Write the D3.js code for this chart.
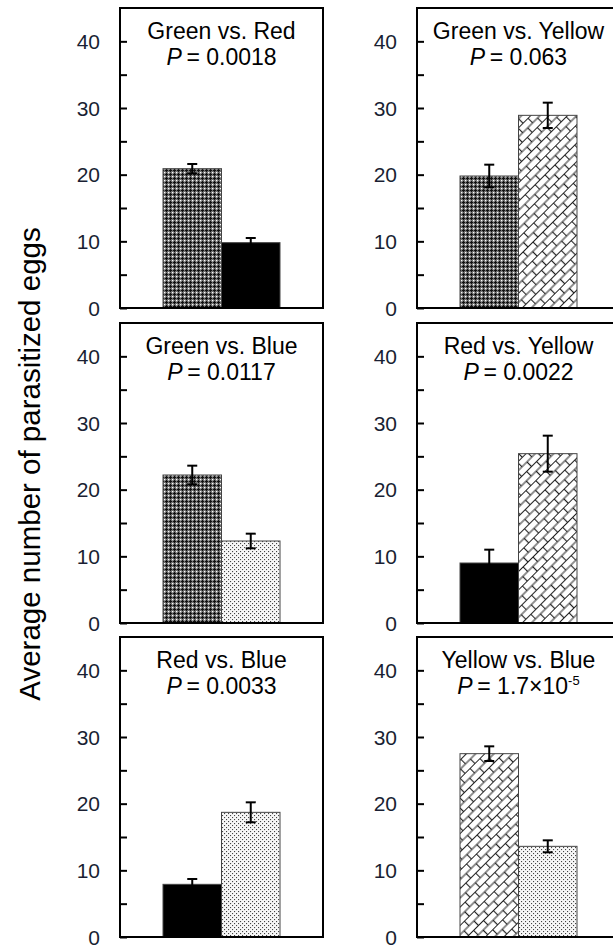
<!DOCTYPE html>
<html>
<head>
<meta charset="utf-8">
<script src="https://cdn.jsdelivr.net/npm/d3@7"></script>
<style>
  body { margin: 0; background: #fff; }
  svg { display: block; }
</style>
</head>
<body>
<svg id="vis"></svg>
<script>
// values
var titles = ["Green vs. Red", "Green vs. Yellow", "Green vs. Blue", "Red vs. Yellow", "Red vs. Blue", "Yellow vs. Blue"];
var pValues = ["0.0018", "0.063", "0.0117", "0.0022", "0.0033", "1.7\u00d710"];
var pExponents = ["", "", "", "", "", "-5"];
var pairs = [["Green", "Red"], ["Green", "Yellow"], ["Green", "Blue"], ["Red", "Yellow"], ["Red", "Blue"], ["Yellow", "Blue"]];
var means = [[20.9, 9.8], [19.8, 28.9], [22.2, 12.3], [9.0, 25.4], [7.9, 18.7], [27.5, 13.6]];
var errors = [[0.7, 0.7], [1.7, 1.9], [1.4, 1.1], [2.0, 2.7], [0.8, 1.5], [1.1, 0.9]];
var majorTicks = [0, 10, 20, 30, 40];
var minorTicks = [5, 15, 25, 35];
var yLabel = "Average number of parasitized eggs";

const WIDTH = 613;
const HEIGHT = 948;
const PANEL_W = 203;
const PANEL_H = 300;
const COLS = [120, 417];
const ROWS = [8, 323, 637];

var svg = d3.select("#vis")
    .attr("width", WIDTH)
    .attr("height", HEIGHT);

var defs = svg.append("defs");

// green: dark checker with white dots
var pg = defs.append("pattern").attr("id", "pGreen")
    .attr("width", 4).attr("height", 4).attr("patternUnits", "userSpaceOnUse");
pg.append("rect").attr("width", 4).attr("height", 4).attr("fill", "#707070");
pg.append("rect").attr("x", 0).attr("y", 0).attr("width", 1.3).attr("height", 1.3).attr("fill", "#fff");
pg.append("rect").attr("x", 2).attr("y", 1).attr("width", 1).attr("height", 3).attr("fill", "#111");
pg.append("rect").attr("x", 1).attr("y", 2).attr("width", 3).attr("height", 1).attr("fill", "#111");

// yellow: diagonal brick
var py = defs.append("pattern").attr("id", "pYellow")
    .attr("width", 14).attr("height", 13).attr("patternUnits", "userSpaceOnUse")
    .attr("patternTransform", "rotate(-45)");
py.append("rect").attr("width", 14).attr("height", 13).attr("fill", "#fff");
py.append("path")
    .attr("d", "M0,0.5H14M0,7H14M0.5,0V7M7.5,7V13")
    .attr("stroke", "#222").attr("stroke-width", 1.2).attr("fill", "none");

// blue: light dotted
var pb = defs.append("pattern").attr("id", "pBlue")
    .attr("width", 4).attr("height", 4).attr("patternUnits", "userSpaceOnUse");
pb.append("rect").attr("width", 4).attr("height", 4).attr("fill", "#f7f7f7");
pb.append("rect").attr("x", 0).attr("y", 0).attr("width", 1.1).attr("height", 1.1).attr("fill", "#444");
pb.append("rect").attr("x", 2).attr("y", 2).attr("width", 1.1).attr("height", 1.1).attr("fill", "#444");

var fills = { Green: "url(#pGreen)", Red: "#000", Yellow: "url(#pYellow)", Blue: "url(#pBlue)" };

var x = d3.scaleBand().domain([0, 1]).range([43, 160]).padding(0);
var y = d3.scaleLinear().domain([0, 45]).range([PANEL_H, 0]);

titles.forEach(function(t, i) {
    var x0 = COLS[i % 2];
    var y0 = ROWS[Math.floor(i / 2)];
    var g = svg.append("g").attr("transform", "translate(" + x0 + "," + y0 + ")");

    // bars
    g.selectAll("rect.bar")
        .data(means[i])
        .enter()
        .append("rect")
        .attr("class", "bar")
        .attr("x", function(d, j) { return x(j); })
        .attr("y", function(d) { return y(d); })
        .attr("width", x.bandwidth())
        .attr("height", function(d) { return y(0) - y(d); })
        .attr("fill", function(d, j) { return fills[pairs[i][j]]; })
        .attr("stroke", "#444")
        .attr("stroke-width", 1);

    // error bars
    var eb = g.selectAll("g.err")
        .data(means[i])
        .enter()
        .append("g")
        .attr("class", "err")
        .attr("stroke", "#000")
        .attr("stroke-width", 2);
    eb.append("line")
        .attr("x1", function(d, j) { return x(j) + x.bandwidth() / 2; })
        .attr("x2", function(d, j) { return x(j) + x.bandwidth() / 2; })
        .attr("y1", function(d, j) { return y(d + errors[i][j]); })
        .attr("y2", function(d, j) { return y(d - errors[i][j]); });
    eb.append("line")
        .attr("x1", function(d, j) { return x(j) + x.bandwidth() / 2 - 5; })
        .attr("x2", function(d, j) { return x(j) + x.bandwidth() / 2 + 5; })
        .attr("y1", function(d, j) { return y(d + errors[i][j]); })
        .attr("y2", function(d, j) { return y(d + errors[i][j]); });
    eb.append("line")
        .attr("x1", function(d, j) { return x(j) + x.bandwidth() / 2 - 5; })
        .attr("x2", function(d, j) { return x(j) + x.bandwidth() / 2 + 5; })
        .attr("y1", function(d, j) { return y(d - errors[i][j]); })
        .attr("y2", function(d, j) { return y(d - errors[i][j]); });

    // axis ticks (pointing inward) and labels
    var major = g.append("g")
        .call(d3.axisLeft(y).tickValues(majorTicks).tickSizeInner(-7).tickSizeOuter(0).tickPadding(20));
    var minor = g.append("g")
        .call(d3.axisLeft(y).tickValues(minorTicks).tickSizeInner(-7).tickSizeOuter(0).tickFormat(""));
    [major, minor].forEach(function(a) {
        a.select(".domain").remove();
        a.selectAll(".tick line").attr("stroke", "#000").attr("stroke-width", 2);
    });
    major.selectAll(".tick text")
        .attr("font-family", "'Liberation Sans', Arial, sans-serif")
        .attr("font-size", "21px")
        .attr("dy", "0.34em")
        .attr("fill", "#1a1f33");

    // frame
    g.append("rect")
        .attr("width", PANEL_W)
        .attr("height", PANEL_H)
        .attr("fill", "none")
        .attr("stroke", "#000")
        .attr("stroke-width", 2);

    // title
    var tx = PANEL_W / 2;
    g.append("text")
        .text(t)
        .attr("x", tx)
        .attr("y", 31)
        .attr("text-anchor", "middle")
        .attr("font-family", "'Liberation Sans', Arial, sans-serif")
        .attr("font-size", "23px")
        .attr("fill", "#000");
    var pt = g.append("text")
        .attr("x", tx)
        .attr("y", 57)
        .attr("text-anchor", "middle")
        .attr("font-family", "'Liberation Sans', Arial, sans-serif")
        .attr("font-size", "23px")
        .attr("fill", "#000");
    pt.append("tspan").attr("font-style", "italic").text("P");
    pt.append("tspan").text("\u2009= " + pValues[i]);
    if (pExponents[i] !== "") {
        pt.append("tspan").attr("font-size", "13px").attr("dy", -9).text(pExponents[i]);
    }
});

svg.append("text")
    .text(yLabel)
    .attr("transform", "translate(40,464) rotate(-90)")
    .attr("text-anchor", "middle")
    .attr("font-family", "'Liberation Sans', Arial, sans-serif")
    .attr("font-size", "29.5px")
    .attr("fill", "#000");
</script>
</body>
</html>
